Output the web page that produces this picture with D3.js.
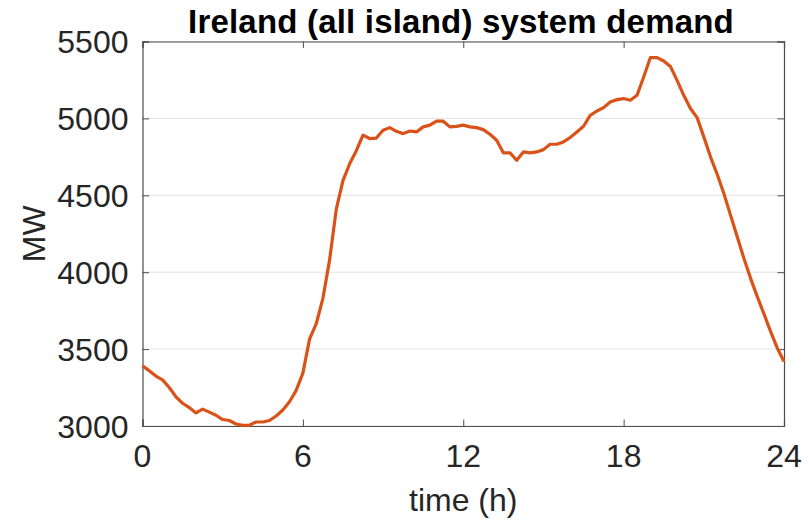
<!DOCTYPE html>
<html lang="en">
<head>
    <meta charset="UTF-8">
    <title>Ireland (all island) system demand</title>
    <script src="https://cdn.jsdelivr.net/npm/d3@7"></script>
    <style>
        body { margin: 0; background: #fff; }
        text { font-family: "Liberation Sans", Arial, sans-serif; fill: #262626; }
    </style>
</head>
<body>
<div id="chart"></div>
<script>
    // quarter-hourly demand, MW
    const stepHours = 0.25;
    const demand = [
        3391, 3360, 3325, 3300, 3250, 3190, 3148, 3120, 3085, 3110, 3090, 3070,
        3042, 3036, 3013, 3004, 3005, 3026, 3026, 3036, 3065, 3104, 3158, 3232,
        3344, 3565, 3665, 3830, 4080, 4410, 4595, 4705, 4790, 4891, 4869, 4872,
        4923, 4940, 4916, 4901, 4918, 4912, 4945, 4956, 4982, 4982, 4945, 4948,
        4956, 4945, 4940, 4927, 4897, 4858, 4776, 4776, 4728, 4782, 4776, 4782,
        4797, 4832, 4832, 4847, 4876, 4912, 4949, 5020, 5048, 5070, 5107, 5122,
        5129, 5118, 5150, 5269, 5395, 5395, 5373, 5338, 5247, 5150, 5064, 5005,
        4880, 4750, 4637, 4512, 4371, 4230, 4090, 3960, 3841, 3729, 3614, 3506,
        3419
    ];
    const xTicks = [0, 6, 12, 18, 24];
    const yTicks = [3000, 3500, 4000, 4500, 5000, 5500];

    const width = 809, height = 521;
    const margin = {top: 41.5, right: 25, bottom: 95, left: 142.5};

    const svg = d3.select('#chart').append('svg')
        .attr('width', width)
        .attr('height', height);

    const x = d3.scaleLinear().domain([0, 24]).range([margin.left, width - margin.right]);
    const y = d3.scaleLinear().domain([3000, 5500]).range([height - margin.bottom, margin.top]);

    // grid
    svg.append('g')
        .selectAll('line')
        .data(yTicks)
        .join('line')
        .attr('x1', x(0)).attr('x2', x(24))
        .attr('y1', d => y(d)).attr('y2', d => y(d))
        .attr('stroke', '#e3e3e3')
        .attr('stroke-width', 1);

    const tickLen = 6.5;
    const axisColor = '#4d4d4d';

    // box + inward ticks
    const xAxisB = d3.axisBottom(x).tickValues(xTicks).tickSize(-tickLen).tickFormat('');
    const xAxisT = d3.axisTop(x).tickValues(xTicks).tickSize(-tickLen).tickFormat('');
    const yAxisL = d3.axisLeft(y).tickValues(yTicks).tickSize(-tickLen).tickFormat('');
    const yAxisR = d3.axisRight(y).tickValues(yTicks).tickSize(-tickLen).tickFormat('');

    [[xAxisB, `translate(0,${y(3000)})`], [xAxisT, `translate(0,${y(5500)})`],
     [yAxisL, `translate(${x(0)},0)`], [yAxisR, `translate(${x(24)},0)`]].forEach(([ax, tr]) => {
        const g = svg.append('g').attr('transform', tr).call(ax);
        g.select('.domain').attr('stroke', axisColor).attr('stroke-width', 1.2);
        g.selectAll('.tick line').attr('stroke', axisColor).attr('stroke-width', 1);
    });

    // tick labels
    svg.append('g')
        .selectAll('text')
        .data(xTicks)
        .join('text')
        .attr('x', d => x(d))
        .attr('y', 467)
        .attr('text-anchor', 'middle')
        .attr('font-size', 32)
        .text(d => d);

    svg.append('g')
        .selectAll('text')
        .data(yTicks)
        .join('text')
        .attr('x', x(0) - 14)
        .attr('y', d => y(d) + 11.5)
        .attr('text-anchor', 'end')
        .attr('font-size', 32)
        .text(d => d);

    // line
    const line = d3.line()
        .x((d, i) => x(i * stepHours))
        .y(d => y(d));

    svg.append('path')
        .datum(demand)
        .attr('d', line)
        .attr('fill', 'none')
        .attr('stroke', '#D95319')
        .attr('stroke-width', 3.2)
        .attr('stroke-linejoin', 'round');

    // labels
    svg.append('text')
        .attr('x', 461)
        .attr('y', 33)
        .attr('text-anchor', 'middle')
        .attr('font-size', 33)
        .attr('font-weight', 'bold')
        .attr('letter-spacing', 0.2)
        .style('fill', '#000')
        .text('Ireland (all island) system demand');

    svg.append('text')
        .attr('x', (x(0) + x(24)) / 2)
        .attr('y', 511)
        .attr('text-anchor', 'middle')
        .attr('font-size', 32)
        .text('time (h)');

    svg.append('text')
        .attr('transform', `translate(45,${(y(3000) + y(5500)) / 2}) rotate(-90)`)
        .attr('text-anchor', 'middle')
        .attr('font-size', 32)
        .text('MW');
</script>
</body>
</html>
